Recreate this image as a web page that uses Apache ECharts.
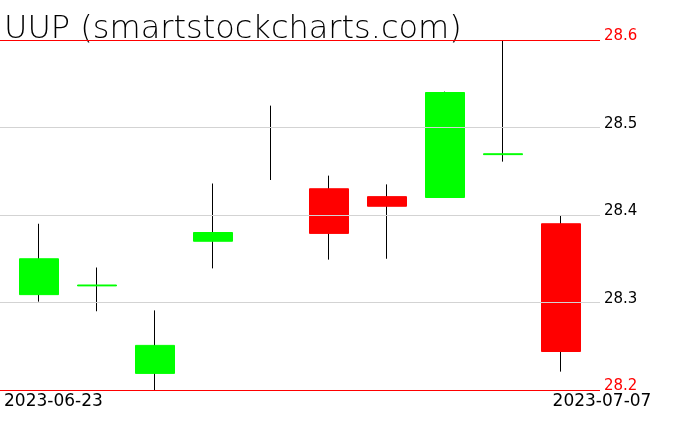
<!DOCTYPE html>
<html>
<head>
<meta charset="utf-8">
<script src="https://cdn.jsdelivr.net/npm/echarts@6/dist/echarts.min.js"></script>
<style>html,body{margin:0;padding:0;background:#fff;}#c{width:676px;height:431px;}</style>
</head>
<body>
<div id="c"></div>
<script>
const titleText = 'UUP (smartstockcharts.com)';
const dates = ['2023-06-23','2023-06-26','2023-06-27','2023-06-28','2023-06-29','2023-06-30','2023-07-03','2023-07-05','2023-07-06','2023-07-07'];
const openVals  = [28.309, 28.319, 28.219, 28.370, null,   28.430, 28.421, 28.420, 28.469, 28.390];
const closeVals = [28.350, 28.320, 28.251, 28.380, null,   28.379, 28.410, 28.540, 28.470, 28.244];
const lowVals   = [28.301, 28.290, 28.200, 28.339, 28.440, 28.349, 28.350, 28.420, 28.461, 28.221];
const highVals  = [28.390, 28.340, 28.291, 28.436, 28.525, 28.445, 28.435, 28.541, 28.599, 28.400];
const yMin = 28.2, yMax = 28.6, yStep = 0.1;
const edgeTicks = [28.2, 28.6];

const wickData = dates.map((d, i) => [lowVals[i], highVals[i], lowVals[i], highVals[i]]);
const bodyData = dates.map((d, i) => {
  const o = openVals[i], c = closeVals[i];
  if (o == null || c == null) return '-';
  return [o, c, Math.min(o, c), Math.max(o, c)];
});

const FONT = 'DejaVu Sans';
const chart = echarts.init(document.getElementById('c'), null, {renderer: 'canvas'});
chart.setOption({
  animation: false,
  backgroundColor: '#ffffff',
  title: {
    text: titleText, left: 4, top: 14, padding: 0,
    textStyle: {fontFamily: FONT, fontWeight: 200, fontSize: 32, color: '#000', lineHeight: 32}
  },
  grid: [
    {left: 0, width: 600, top: 40, height: 350, containLabel: false},
    {left: 10, width: 580, top: 40, height: 350, containLabel: false}
  ],
  xAxis: [
    {
      type: 'category', gridIndex: 0, data: dates, boundaryGap: false,
      axisLine: {show: false}, axisTick: {show: false}, splitLine: {show: false},
      axisLabel: {
        interval: (idx) => idx === 0 || idx === dates.length - 1,
        showMinLabel: true, showMaxLabel: true,
        alignMinLabel: 'left', alignMaxLabel: 'center',
        margin: 3, padding: [0, 0, 0, 4],
        fontFamily: FONT, fontSize: 17, color: '#000'
      }
    },
    {
      type: 'category', gridIndex: 1, data: dates, boundaryGap: true,
      show: false
    }
  ],
  yAxis: [
    {
      type: 'value', gridIndex: 0, position: 'right', min: yMin, max: yMax, interval: yStep,
      z: 10,
      axisLine: {show: false}, axisTick: {show: false},
      splitLine: {show: true, lineStyle: {width: 1, color: ['#ff0000', '#d3d3d3', '#d3d3d3', '#d3d3d3']}},
      axisLabel: {
        margin: 4, fontFamily: FONT, fontSize: 15, verticalAlign: 'bottom', lineHeight: 7,
        formatter: (v) => v.toFixed(1),
        color: (v) => edgeTicks.some(t => Math.abs(t - v) < 1e-6) ? '#ff0000' : '#000000'
      }
    },
    {
      type: 'value', gridIndex: 1, min: yMin, max: yMax, interval: yStep, show: false,
      splitLine: {show: false}
    }
  ],
  series: [
    {
      name: 'wick', type: 'candlestick', xAxisIndex: 1, yAxisIndex: 1,
      barWidth: 0.001, data: wickData, z: 2,
      itemStyle: {color: '#000', color0: '#000', borderColor: '#000', borderColor0: '#000', borderWidth: 1}
    },
    {
      name: 'body', type: 'candlestick', xAxisIndex: 1, yAxisIndex: 1,
      barWidth: 39, data: bodyData, z: 3,
      itemStyle: {color: '#00ff00', color0: '#ff0000', borderColor: '#00ff00', borderColor0: '#ff0000', borderWidth: 1}
    }
  ]
});
</script>
</body>
</html>
